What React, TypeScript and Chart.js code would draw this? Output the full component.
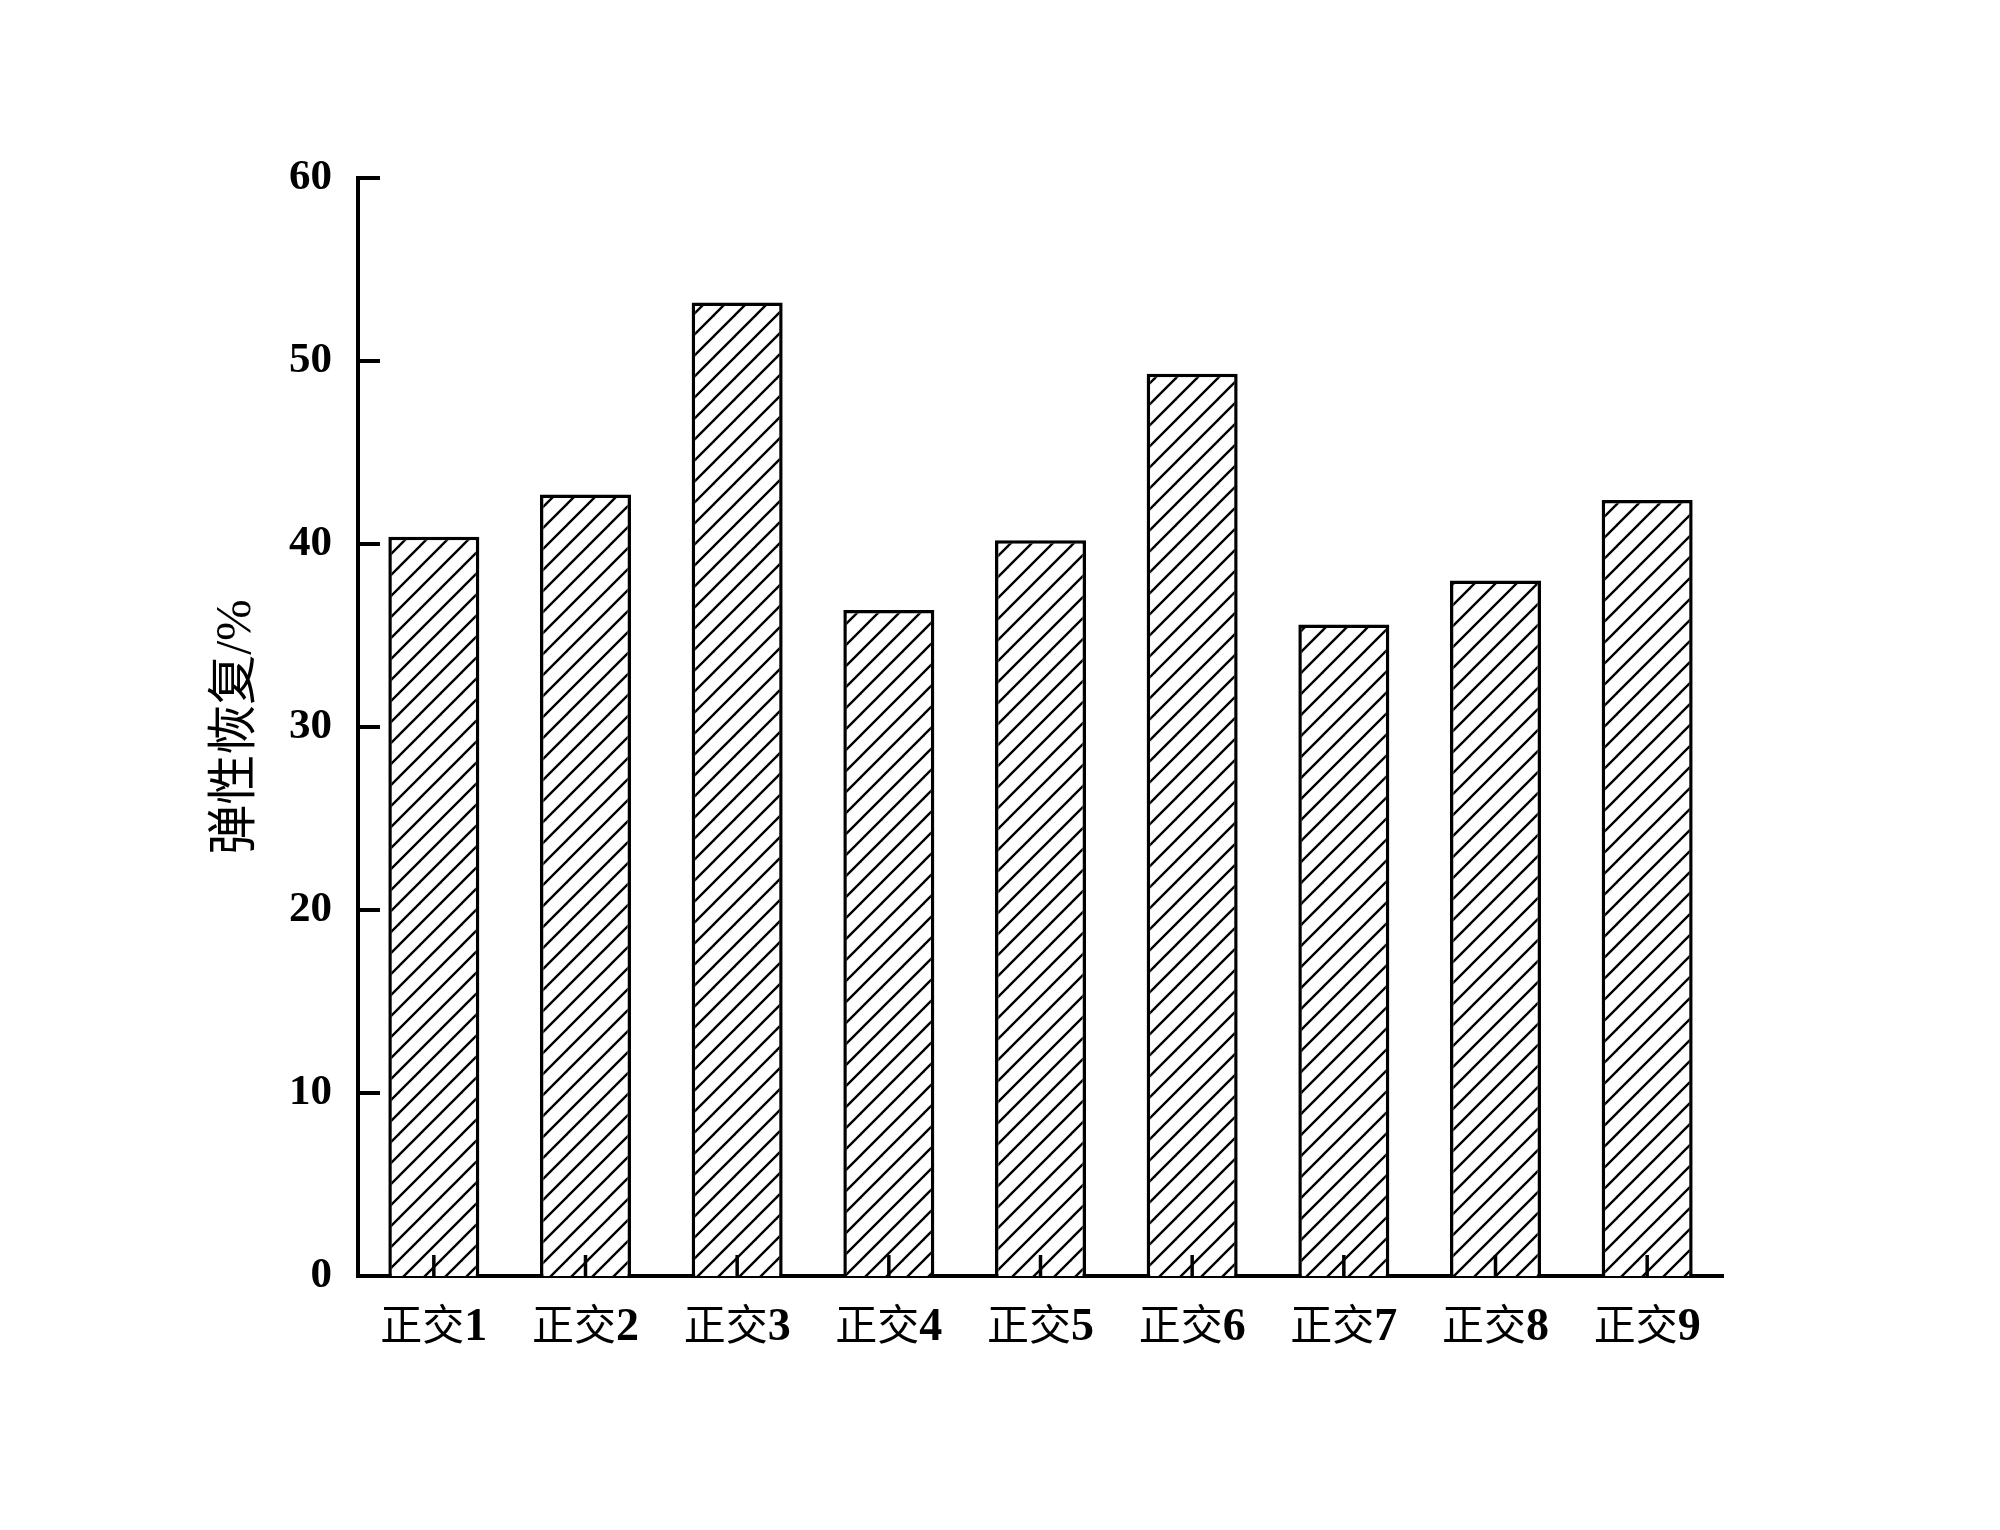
import React, { useEffect, useRef } from "react";
import { Chart, registerables } from "chart.js";

Chart.register(...registerables);

const categories = ["正交1", "正交2", "正交3", "正交4", "正交5", "正交6", "正交7", "正交8", "正交9"];
const recoveryValues = [40.4, 42.7, 53.2, 36.4, 40.2, 49.3, 35.6, 38.0, 42.4];
const yTickMin = 0;
const yTickMax = 60;
const yTickStep = 10;
const yTitle = "弹性恢复/%";

function makeHatch(): CanvasPattern | string {
  const s = 21;
  const c = document.createElement("canvas");
  c.width = s;
  c.height = s;
  const g = c.getContext("2d");
  if (!g) return "#fff";
  g.fillStyle = "#fff";
  g.fillRect(0, 0, s, s);
  g.strokeStyle = "#000";
  g.lineWidth = 2.4;
  g.lineCap = "square";
  for (const k of [-s, 0, s]) {
    g.beginPath();
    g.moveTo(k - 3, s + 3);
    g.lineTo(s + k + 3, -3);
    g.stroke();
  }
  const p = g.createPattern(c, "repeat");
  return p || "#fff";
}

const axisDecor = {
  id: "axisDecor",
  afterDraw(chart: any) {
    const ctx = chart.ctx as CanvasRenderingContext2D;
    const xs = chart.scales.x;
    const ys = chart.scales.y;
    const area = chart.chartArea;
    ctx.save();
    ctx.strokeStyle = "#000";
    ctx.lineWidth = 4;
    ys.ticks.forEach((_t: any, i: number) => {
      const py = ys.getPixelForTick(i);
      ctx.beginPath();
      ctx.moveTo(area.left, py);
      ctx.lineTo(area.left + 22, py);
      ctx.stroke();
    });
    ctx.lineWidth = 3.5;
    categories.forEach((_c, i) => {
      const px = xs.getPixelForTick(i);
      ctx.beginPath();
      ctx.moveTo(px, area.bottom);
      ctx.lineTo(px, area.bottom - 21);
      ctx.stroke();
    });
    ctx.fillStyle = "#000";
    ctx.textBaseline = "alphabetic";
    ctx.textAlign = "left";
    const baseY = area.bottom + 64;
    categories.forEach((c, i) => {
      const px = xs.getPixelForTick(i);
      const m = c.match(/^(\D*)(\d*)$/);
      const pre = m ? m[1] : c;
      const num = m ? m[2] : "";
      const f1 = "400 42px 'Noto Sans CJK SC'";
      const f2 = "bold 46px 'Liberation Serif'";
      ctx.font = f1;
      const w1 = ctx.measureText(pre).width;
      ctx.font = f2;
      const w2 = ctx.measureText(num).width;
      const start = px - (w1 + w2) / 2;
      ctx.font = f1;
      ctx.fillText(pre, start, baseY);
      ctx.font = f2;
      ctx.fillText(num, start + w1, baseY);
    });
    ctx.restore();
  },
};

export default function App() {
  const ref = useRef<HTMLCanvasElement | null>(null);
  useEffect(() => {
    document.body.style.margin = "0";
    const canvas = ref.current;
    if (!canvas) return;
    const hatch = makeHatch();
    const chart = new Chart(canvas, {
      type: "bar",
      data: {
        labels: categories,
        datasets: [
          {
            data: recoveryValues,
            backgroundColor: hatch as any,
            borderColor: "#000",
            borderWidth: 3.5,
            barPercentage: 0.6,
            categoryPercentage: 1.0,
          },
        ],
      },
      options: {
        animation: false,
        responsive: false,
        devicePixelRatio: 1,
        layout: { padding: { top: 178, right: 277, bottom: 0, left: 0 } },
        plugins: { legend: { display: false }, tooltip: { enabled: false } },
        scales: {
          x: {
            grid: { display: false, drawTicks: false },
            border: { display: true, color: "#000", width: 4 },
            ticks: { display: false },
            afterFit: (s: any) => {
              s.height = 254;
            },
          },
          y: {
            min: yTickMin,
            max: yTickMax,
            grid: { display: false, drawTicks: false },
            border: { display: true, color: "#000", width: 4 },
            ticks: {
              stepSize: yTickStep,
              padding: 26,
              color: "#000",
              font: { family: "'Liberation Serif'", weight: "bold", size: 43 },
            },
            title: {
              display: true,
              text: yTitle,
              color: "#000",
              padding: { top: 207, bottom: 0 },
              font: { family: "'Liberation Serif', 'Noto Sans CJK SC'", weight: "normal", size: 50 },
            },
            afterFit: (s: any) => {
              s.width = 358;
            },
          },
        },
      },
      plugins: [axisDecor],
    });
    return () => chart.destroy();
  }, []);
  return (
    <div style={{ position: "absolute", left: 0, top: 0, width: 2000, height: 1530, background: "#fff" }}>
      <canvas ref={ref} width={2000} height={1530} style={{ width: 2000, height: 1530 }} />
    </div>
  );
}
